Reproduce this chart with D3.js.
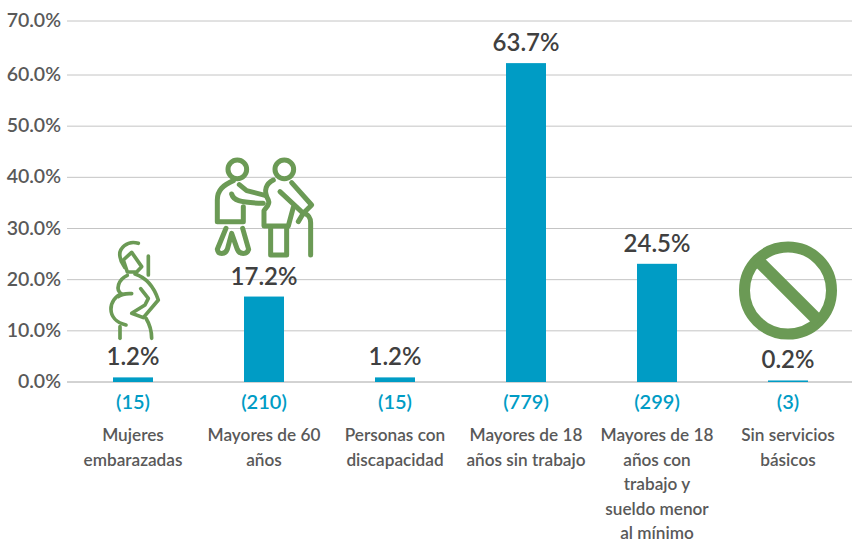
<!DOCTYPE html>
<html>
<head>
<meta charset="utf-8">
<script src="https://cdn.jsdelivr.net/npm/d3@7"></script>
<style>
  html, body { margin: 0; padding: 0; background: #fff; }
  text { font-family: Lato, sans-serif; }
</style>
</head>
<body>
<div id="chart"></div>
<script>
const categories = [
  ["Mujeres", "embarazadas"],
  ["Mayores de 60", "años"],
  ["Personas con", "discapacidad"],
  ["Mayores de 18", "años sin trabajo"],
  ["Mayores de 18", "años con", "trabajo y", "sueldo menor", "al mínimo"],
  ["Sin servicios", "básicos"]
];
const values = [0.9, 16.7, 0.9, 62.2, 23.1, 0.3];
const valueLabels = ["1.2%", "17.2%", "1.2%", "63.7%", "24.5%", "0.2%"];
const counts = ["(15)", "(210)", "(15)", "(779)", "(299)", "(3)"];
const ticks = [0, 10, 20, 30, 40, 50, 60, 70];

const width = 852, height = 541;
const margin = { top: 21, right: 852, bottom: 382, left: 67 };

const svg = d3.select("#chart").append("svg")
  .attr("width", width)
  .attr("height", height)
  .style("display", "block");

const x = d3.scaleBand().domain(d3.range(categories.length)).range([67.5, 853.5]);
// the top band of the source chart is a little taller than the others
const y = d3.scaleLinear().domain([0, 60, 70]).range([margin.bottom, 75, margin.top]);
const barW = 40;

// gridlines
svg.append("g").selectAll("line")
  .data(ticks)
  .enter().append("line")
  .attr("x1", margin.left).attr("x2", margin.right)
  .attr("y1", d => y(d)).attr("y2", d => y(d))
  .attr("stroke", d => d === 0 ? "#a6a6a6" : "#c4c4c4")
  .attr("stroke-width", 1);

// y axis labels
svg.append("g").selectAll("text")
  .data(ticks)
  .enter().append("text")
  .attr("x", 61)
  .attr("y", d => y(d) + 6)
  .attr("text-anchor", "end")
  .attr("font-size", "19.5px")
  .attr("font-weight", 600)
  .attr("fill", "#595959")
  .text(d => d.toFixed(1) + "%");

// bars
svg.append("g").selectAll("rect")
  .data(values)
  .enter().append("rect")
  .attr("x", (d, i) => x(i) + x.bandwidth() / 2 - barW / 2)
  .attr("y", d => y(d))
  .attr("width", barW)
  .attr("height", d => margin.bottom - y(d))
  .attr("fill", "#009cc5");

// value labels
svg.append("g").selectAll("text")
  .data(valueLabels)
  .enter().append("text")
  .attr("x", (d, i) => x(i) + x.bandwidth() / 2)
  .attr("y", (d, i) => y(values[i]) - 12)
  .attr("text-anchor", "middle")
  .attr("font-size", "24px")
  .attr("font-weight", 600)
  .attr("fill", "#404040")
  .text(d => d);

// counts
svg.append("g").selectAll("text")
  .data(counts)
  .enter().append("text")
  .attr("x", (d, i) => x(i) + x.bandwidth() / 2)
  .attr("y", 408.5)
  .attr("text-anchor", "middle")
  .attr("font-size", "20px")
  .attr("font-weight", 600)
  .attr("fill", "#009cc5")
  .text(d => d);

// category labels
const cat = svg.append("g").selectAll("text")
  .data(categories)
  .enter().append("text")
  .attr("text-anchor", "middle")
  .attr("font-size", "17.2px")
  .attr("font-weight", 600)
  .attr("fill", "#595959");
cat.each(function(lines, i) {
  d3.select(this).selectAll("tspan")
    .data(lines)
    .enter().append("tspan")
    .attr("x", x(i) + x.bandwidth() / 2)
    .attr("y", (d, j) => 441 + j * 24.6)
    .text(d => d);
});

const green = "#6b9a55";

// "no" sign
const noSign = svg.append("g").attr("transform", "translate(788,290.5)")
  .attr("fill", "none").attr("stroke", green).attr("stroke-width", 11);
noSign.append("circle").attr("r", 43.5);
noSign.append("line").attr("x1", -31).attr("y1", -31).attr("x2", 31).attr("y2", 31)
  .attr("stroke-width", 12.5);

// icons traced at 3x, so they get scaled down
const icons = svg.append("g")
  .attr("transform", "translate(90,150) scale(0.3333)")
  .attr("fill", "none").attr("stroke", green)
  .attr("stroke-linecap", "round").attr("stroke-linejoin", "round");

// pregnant woman
const preg = icons.append("g").attr("stroke-width", 11);
preg.append("path").attr("d", "M145 280 C112 270 85 295 90 320 C92 335 100 345 104 352");
preg.append("path").attr("d", "M100 330 L125 307 L155 350 L140 366 L112 366 Z");
preg.append("path").attr("d", "M175 318 L175 375");
preg.append("path").attr("d", "M112 376 C85 388 75 420 95 432 C55 445 45 510 108 525");
preg.append("path").attr("d", "M90 530 L90 565");
preg.append("path").attr("d", "M85 440 C95 432 110 430 125 431");
preg.append("path").attr("d", "M135 372 C175 385 195 420 205 450 L160 503 L125 490 L165 465 L175 445 L152 416");
preg.append("path").attr("d", "M168 505 C180 525 185 540 185 565");

// elderly couple
const couple = icons.append("g").attr("stroke-width", 15);
couple.append("circle").attr("cx", 442).attr("cy", 58).attr("r", 28);
couple.append("circle").attr("cx", 583).attr("cy", 58).attr("r", 28);
couple.append("path").attr("d", "M430 92 C400 105 382 120 382 150 L382 215 L460 215 L460 170");
couple.append("path").attr("d", "M448 104 L470 122 L525 136");
couple.append("path").attr("d", "M425 132 C430 150 445 158 520 160");
couple.append("path").attr("d", "M408 235 L382 298 C385 315 405 315 412 298 L425 250 L442 298 C450 315 470 315 476 298 L458 235");
couple.append("path").attr("d", "M550 90 C530 100 518 120 535 150 C542 165 525 175 522 182 L522 228 L595 228 L610 172");
couple.append("path").attr("d", "M570 125 L640 190 L665 165 L605 98");
couple.append("path").attr("d", "M625 215 L640 190 C655 192 662 205 662 218 L662 315");
couple.append("path").attr("d", "M542 235 L542 315 L590 315 L590 235");
</script>
</body>
</html>
